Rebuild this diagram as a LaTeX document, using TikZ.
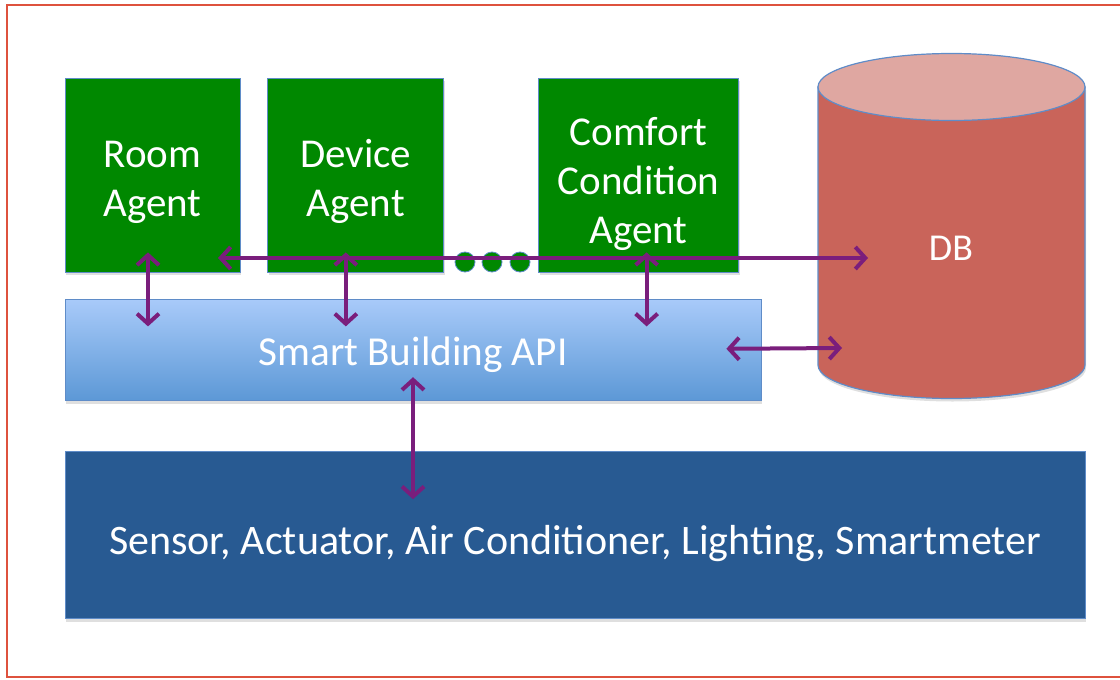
\documentclass[tikz,border=0pt]{standalone}
\usepackage{fontspec}
\setmainfont{Carlito}
\usetikzlibrary{positioning,arrows.meta,calc,shadows}
\tikzset{>={Straight Barb[length=5pt,width=11pt]}}

\definecolor{agentgreen}{RGB}{0,136,0}
\definecolor{edgeblue}{RGB}{95,140,200}
\definecolor{apitop}{RGB}{168,202,249}
\definecolor{apibottom}{RGB}{92,152,214}
\definecolor{hwblue}{RGB}{40,90,146}
\definecolor{dbside}{RGB}{201,100,90}
\definecolor{dbtop}{RGB}{223,167,161}
\definecolor{linkpurple}{RGB}{122,30,124}
\definecolor{framered}{RGB}{222,82,62}

\begin{document}
\begin{tikzpicture}[x=0.5pt, y=-0.5pt,
    boxshadow/.style={drop shadow={shadow xshift=0.5pt, shadow yshift=-1.5pt, opacity=0.25}},
    agent/.style={rectangle, draw=edgeblue, line width=0.4pt, fill=agentgreen, text=white,
        minimum width=87.5pt, minimum height=97pt, inner sep=0pt, align=center,
        text height=41pt, text depth=0pt, font=\fontsize{20.5}{24.5}\selectfont, boxshadow},
    apibox/.style={rectangle, draw=edgeblue, line width=0.4pt, top color=apitop, bottom color=apibottom,
        text=white, minimum width=348pt, minimum height=50.5pt, inner sep=0pt,
        text height=15.5pt, text depth=0pt, font=\fontsize{20.6}{24}\selectfont, boxshadow},
    hwbox/.style={rectangle, draw=edgeblue, line width=0.4pt, fill=hwblue, text=white,
        minimum width=510pt, minimum height=83.5pt, inner sep=0pt,
        text height=19pt, text depth=0pt, font=\fontsize{21}{24}\selectfont, boxshadow},
    dot/.style={circle, fill=agentgreen, draw=edgeblue, line width=0.4pt, minimum size=10pt, inner sep=0pt},
    link/.style={<->, draw=linkpurple, line width=2pt}]
    \useasboundingbox (0,0) rectangle (1120,680);
    \draw[framered, line width=1pt] (7,5) rectangle (1130,677); % outer frame

    % agents
    \node[agent] (room) at (152.5,175) {Room\\Agent};
    \node[agent, right=13.5pt of room, minimum width=88pt] (device) {Device\\Agent};
    \node[agent, right=47pt of device, minimum width=100pt, text height=68pt] (comfort) {Comfort\\Condition\\Agent};
    \node[dot] (d1) at (465,262) {};
    \node[dot] (d2) at (492,262) {};
    \node[dot] (d3) at (520,262) {};

    % api and hardware layer
    \node[apibox, below=13.5pt of room.south west, anchor=north west] (api) {Smart Building API};
    \node[hwbox, below=25pt of api.south west, anchor=north west] (hw) {Sensor, Actuator, Air Conditioner, Lighting, Smartmeter};

    % database cylinder
    \draw[draw=edgeblue, line width=0.6pt, fill=dbside, boxshadow]
        (818,87) -- (818,365) arc[start angle=180, end angle=0, x radius=133.5, y radius=33.5]
        -- (1085,87) -- cycle;
    \draw[draw=edgeblue, line width=0.6pt, fill=dbtop] (951.5,87) ellipse[x radius=133.5, y radius=33.5];
    \node[text=white, font=\fontsize{19}{24}\selectfont] (db) at (951,248) {DB};
    \coordinate (busL) at (218,258);
    \coordinate (busR) at (868,258);
    \coordinate (dbin) at (842,348);

    % links
    \draw[link] (busL) -- (busR);
    \draw[link] ([xshift=-2.25pt,yshift=10pt]room.south) -- ([xshift=-2.25pt,yshift=-13.5pt]room.south |- api.north);
    \draw[link] ([xshift=-5pt,yshift=10pt]device.south) -- ([xshift=-5pt,yshift=-13.5pt]device.south |- api.north);
    \draw[link] ([xshift=4pt,yshift=10pt]comfort.south) -- ([xshift=4pt,yshift=-13.5pt]comfort.south |- api.north);
    \draw[link] ([xshift=-17.5pt,yshift=0.75pt]api.east) -- (dbin);
    \draw[link] ([yshift=12pt]api.south) -- ([yshift=-24pt]hw.north -| api.south);
\end{tikzpicture}
\end{document}
